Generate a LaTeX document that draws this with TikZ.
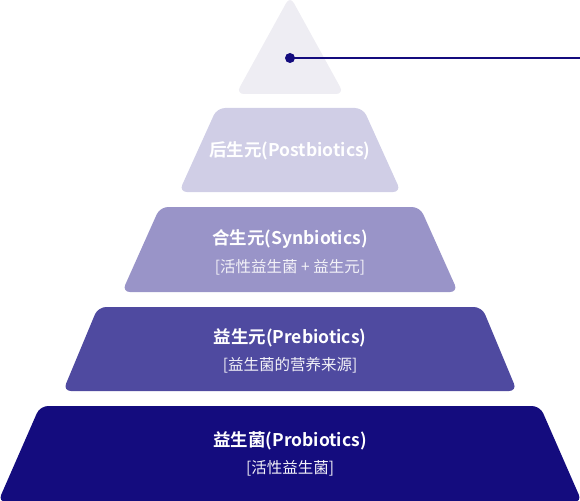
\documentclass[tikz,border=0pt]{standalone}
\usepackage{fontspec}
\setmainfont{Noto Sans CJK SC}
\newfontfamily\cjkb{Noto Sans CJK SC Bold}
\definecolor{lvA}{HTML}{EEEDF3}
\definecolor{lvB}{HTML}{D0CEE6}
\definecolor{lvC}{HTML}{9994C8}
\definecolor{lvD}{HTML}{4F4AA0}
\definecolor{lvE}{HTML}{140C7E}
\tikzset{
  layer/.style={rounded corners=8pt},
  maintext/.style={text=white, font=\cjkb\fontsize{17.5}{20}\selectfont, inner sep=0pt},
  subtext/.style={text=white!88!lvC, font=\fontsize{15.5}{18}\selectfont, inner sep=0pt},
}
\begin{document}
\begin{tikzpicture}[x=1pt,y=-1pt]
\useasboundingbox (0,0) rectangle (580,500);
% layers
\fill[lvA, layer] (290,-4) -- (344,94) -- (236,94) -- cycle;
\fill[lvB, layer] (217,108) -- (363,108) -- (401,192) -- (179,192) -- cycle;
\fill[lvC, layer] (160,207) -- (420,207) -- (458,292) -- (122,292) -- cycle;
\fill[lvD, layer] (98,307) -- (482,307) -- (517,391) -- (63,391) -- cycle;
\fill[lvE, layer] (40,406) -- (540,406) -- (582,502) -- (-2,502) -- cycle;
% texts
\node[maintext] (t2) at (290,151) {后生元(Postbiotics)};
\node[maintext] (t3) at (290,239) {合生元(Synbiotics)};
\node[subtext]  (s3) at (290,267) {[活性益生菌 + 益生元]};
\node[maintext] (t4) at (290,338) {益生元(Prebiotics)};
\node[subtext]  (s4) at (290,365) {[益生菌的营养来源]};
\node[maintext] (t5) at (290,441) {益生菌(Probiotics)};
\node[subtext]  (s5) at (290,468) {[活性益生菌]};
% pointer
\node[circle, fill=lvE, minimum size=10pt, inner sep=0pt] (dot) at (290,58) {};
\coordinate (pend) at (580,58);
\draw[lvE, line width=2pt] (dot.center) -- (pend);
\end{tikzpicture}
\end{document}
